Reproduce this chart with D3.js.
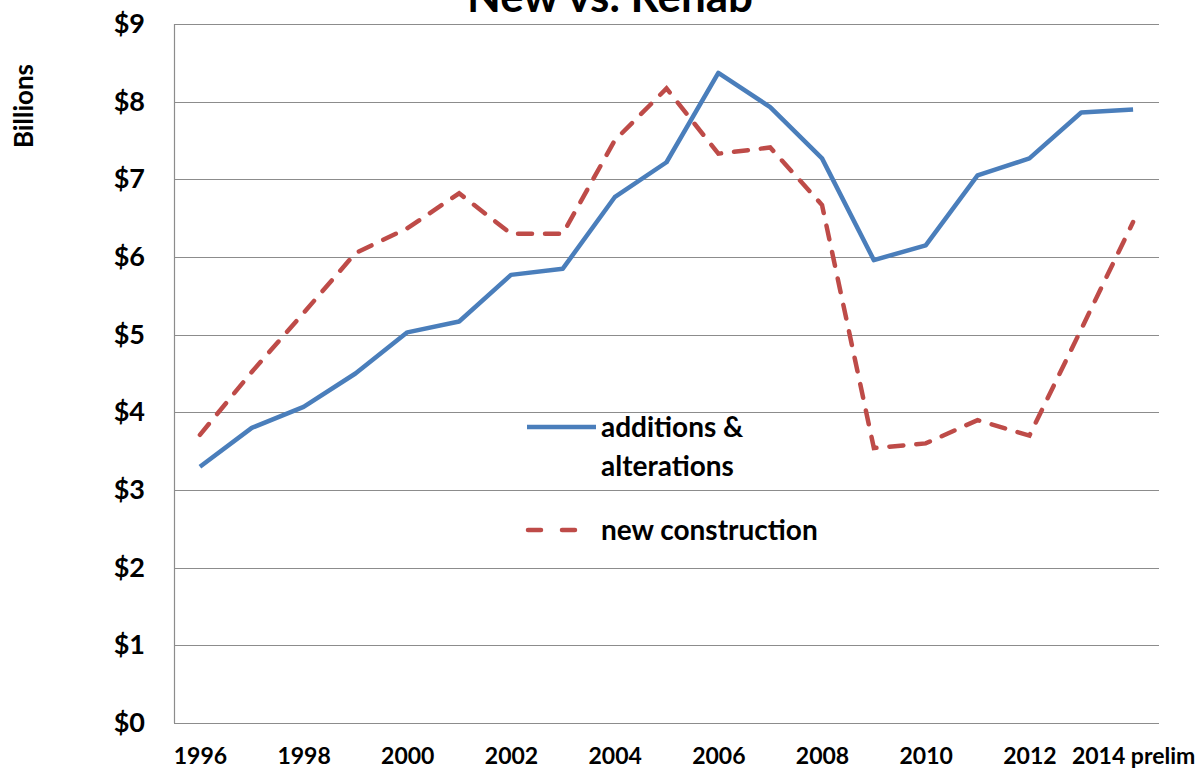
<!DOCTYPE html>
<html lang="en">
<head>
  <meta charset="UTF-8">
  <title>New vs. Rehab</title>
  <script src="https://d3js.org/d3.v7.min.js"></script>
  <style>
    body { margin: 0; background: #fff; }
    svg { display: block; font-family: Lato, "Open Sans", sans-serif; font-weight: bold; }
  </style>
</head>
<body>
  <svg></svg>

  <script>
    // data (billions of dollars)
    const years = ['1996','1997','1998','1999','2000','2001','2002','2003','2004','2005',
                   '2006','2007','2008','2009','2010','2011','2012','2013','2014'];
    const xLabels = ['1996','','1998','','2000','','2002','','2004','',
                     '2006','','2008','','2010','','2012','','2014 prelim'];
    const additions = [3.30, 3.80, 4.07, 4.50, 5.03, 5.17, 5.77, 5.85, 6.77, 7.22,
                       8.37, 7.93, 7.27, 5.96, 6.15, 7.05, 7.27, 7.86, 7.90];
    const newConstruction = [3.71, 4.52, 5.28, 6.05, 6.37, 6.82, 6.30, 6.30, 7.50, 8.17,
                             7.33, 7.41, 6.67, 3.54, 3.60, 3.90, 3.70, 5.07, 6.45];
    const yTicks = [0, 1, 2, 3, 4, 5, 6, 7, 8, 9];

    const width = 1204, height = 771;
    const margin = { top: 24, right: 45, bottom: 48, left: 174 };

    const svg = d3.select('svg')
      .attr('width', width)
      .attr('height', height);

    const x = d3.scalePoint()
      .domain(years)
      .range([margin.left, width - margin.right])
      .padding(0.5);

    const y = d3.scaleLinear()
      .domain([0, 9])
      .range([height - margin.bottom, margin.top]);

    // title, mostly cut off at the top
    svg.append('text')
      .attr('x', 610).attr('y', 12)
      .attr('text-anchor', 'middle')
      .style('font-size', '44px')
      .text('New vs. Rehab');

    // grid
    svg.append('g')
      .selectAll('line')
      .data(yTicks)
      .join('line')
      .attr('x1', margin.left).attr('x2', width - margin.right)
      .attr('y1', d => Math.round(y(d)) + 0.5).attr('y2', d => Math.round(y(d)) + 0.5)
      .attr('stroke', '#8c8c8c').attr('stroke-width', 1.2);

    svg.append('line')
      .attr('x1', margin.left + 0.5).attr('x2', margin.left + 0.5)
      .attr('y1', y(9)).attr('y2', y(0))
      .attr('stroke', '#8c8c8c').attr('stroke-width', 1.2);

    // y axis labels
    const yAxis = svg.append('g')
      .attr('transform', `translate(${margin.left},0)`)
      .call(d3.axisLeft(y).tickValues(yTicks).tickFormat(d => '$' + d).tickSize(0).tickPadding(29));
    yAxis.select('.domain').remove();
    yAxis.selectAll('text')
      .attr('fill', '#000')
      .style('font-family', 'Lato, sans-serif')
      .style('font-weight', 'bold')
      .style('font-size', '27px');

    // x axis labels
    const xAxis = svg.append('g')
      .attr('transform', `translate(0,${height - margin.bottom})`)
      .call(d3.axisBottom(x).tickFormat((d, i) => xLabels[i]).tickSize(0).tickPadding(25));
    xAxis.select('.domain').remove();
    xAxis.selectAll('text')
      .attr('fill', '#000')
      .style('font-family', 'Lato, sans-serif')
      .style('font-weight', 'bold')
      .style('font-size', '23px');

    // y axis title
    svg.append('text')
      .attr('transform', 'translate(33,106) rotate(-90)')
      .attr('text-anchor', 'middle')
      .style('font-size', '26px')
      .text('Billions');

    const line = d3.line()
      .x((d, i) => x(years[i]))
      .y(d => y(d));

    svg.append('path')
      .datum(additions)
      .attr('d', line)
      .attr('fill', 'none')
      .attr('stroke', '#4a7ebb')
      .attr('stroke-width', 4.5)
      .attr('stroke-linejoin', 'round');

    svg.append('path')
      .datum(newConstruction)
      .attr('d', line)
      .attr('fill', 'none')
      .attr('stroke', '#be4b48')
      .attr('stroke-width', 4.5)
      .attr('stroke-linecap', 'round')
      .attr('stroke-dasharray', '14,13');

    // legend
    const legend = svg.append('g');
    legend.append('line')
      .attr('x1', 527).attr('x2', 596).attr('y1', 427).attr('y2', 427)
      .attr('stroke', '#4a7ebb').attr('stroke-width', 4.5);
    legend.append('text').attr('x', 601).attr('y', 437)
      .style('font-size', '28px').text('additions &');
    legend.append('text').attr('x', 601).attr('y', 476)
      .style('font-size', '28px').text('alterations');
    legend.append('line')
      .attr('x1', 528).attr('x2', 580).attr('y1', 530).attr('y2', 530)
      .attr('stroke', '#be4b48').attr('stroke-width', 4.5)
      .attr('stroke-linecap', 'round').attr('stroke-dasharray', '13,21');
    legend.append('text').attr('x', 601).attr('y', 540)
      .style('font-size', '28px').text('new construction');
  </script>
</body>
</html>
